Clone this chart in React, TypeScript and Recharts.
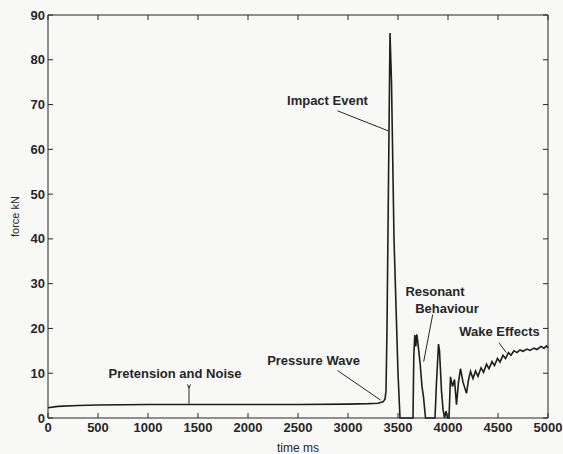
import React from 'react';
import { LineChart, Line, XAxis, YAxis, ReferenceLine, ReferenceDot } from 'recharts';

// time in ms, force in kN
const timeMs = [
    0, 100, 300, 500, 1000, 1500, 2000, 2500, 3000, 3200, 3300, 3350, 3370, 3380, 3390,
    3420, 3435, 3460, 3500, 3520, 3650, 3658, 3668, 3678, 3688, 3698, 3710, 3722, 3740,
    3755, 3775, 3870, 3885, 3905, 3915, 3935, 3950, 3965, 3980, 3995, 4010, 4025, 4045,
    4065, 4085, 4105, 4125, 4150, 4185, 4205, 4225, 4250, 4275, 4300, 4330, 4355, 4385,
    4410, 4440, 4465, 4495, 4520, 4550, 4575, 4605, 4630, 4660, 4690, 4720, 4750, 4790,
    4820, 4860, 4890, 4930, 4960, 4985, 5000,
];
const forceKn = [
    2.3, 2.6, 2.8, 2.9, 3.0, 3.0, 3.0, 3.0, 3.1, 3.2, 3.3, 3.6, 4.2, 6, 20,
    86, 75, 40, 10, 0, 0, 14, 18.5, 16, 18.7, 17, 14.5, 12, 7,
    4.7, 0, 0, 8, 16.5, 15, 6, 2, 0, 1.5, 0, 0, 9.2, 7,
    8.6, 3, 8, 11, 8, 5.5, 8.5, 10.4, 8.8, 10.5, 9.3, 11.2, 10.2, 12,
    11, 12.6, 11.7, 13.3, 12.5, 14, 13.3, 14.6, 14, 15, 14.6, 15.2, 14.9, 15.4,
    15.1, 15.6, 15.3, 16, 15.6, 16.1, 15.7,
];
const xTicks = [0, 500, 1000, 1500, 2000, 2500, 3000, 3500, 4000, 4500, 5000];
const yTicks = [0, 10, 20, 30, 40, 50, 60, 70, 80, 90];

const noteLabels = ['Impact Event', 'Pretension and Noise', 'Pressure Wave', 'Resonant', 'Behaviour', 'Wake Effects'];
const noteAt = [[2795, 70.8], [1270, 9.85], [2655, 12.8], [3870, 28.3], [3990, 24.4], [4515, 19.3]];
const leaders = [
    [[2895, 68.6], [3405, 64.1]],
    [[1410, 6.9], [1410, 3.2]],
    [[1395, 7.5], [1410, 6.7]],
    [[1425, 7.5], [1410, 6.7]],
    [[2895, 10.6], [3326, 4.0]],
    [[3847, 23.1], [3757, 12.6]],
    [[4510, 16.8], [4583, 14.6]],
];

const data = timeMs.map((t, i) => ({ t, f: forceKn[i] }));

const INK = '#262626';
const FONT = '"Liberation Sans", Arial, sans-serif';

const LeftTick = ({ x, y, payload }: any) => (
    <g>
        <line x1={x} x2={x + 5} y1={y} y2={y} stroke={INK} />
        <text x={x - 3} y={y + 4.5} textAnchor="end" fontFamily={FONT} fontWeight="bold" fontSize={13} fill={INK}>
            {payload.value}
        </text>
    </g>
);

const BottomTick = ({ x, y, payload }: any) => (
    <g>
        <line x1={x} x2={x} y1={y} y2={y - 5} stroke={INK} />
        <text x={x} y={y + 14} textAnchor="middle" fontFamily={FONT} fontWeight="bold" fontSize={13} fill={INK}>
            {payload.value}
        </text>
    </g>
);

const TopTick = ({ x, y }: any) => <line x1={x} x2={x} y1={y} y2={y + 5} stroke={INK} />;
const RightTick = ({ x, y }: any) => <line x1={x} x2={x - 5} y1={y} y2={y} stroke={INK} />;

export default function App() {
    return (
        <div style={{ width: 563, height: 454, background: '#f8f8f6' }}>
            <style>{'body{margin:0}'}</style>
            <LineChart width={563} height={454} data={data} margin={{ top: 14, right: 14, bottom: 0, left: 0 }}>
                <XAxis
                    dataKey="t"
                    type="number"
                    domain={[0, 5000]}
                    ticks={xTicks}
                    height={36}
                    tickSize={0}
                    tickMargin={0}
                    tick={<BottomTick />}
                    stroke={INK}
                    interval={0}
                    label={{ value: 'time ms', position: 'insideBottom', offset: 2, fontFamily: FONT, fontSize: 12, fill: INK }}
                />
                <XAxis
                    xAxisId="top"
                    orientation="top"
                    dataKey="t"
                    type="number"
                    domain={[0, 5000]}
                    ticks={xTicks}
                    height={1}
                    tickSize={0}
                    tickMargin={0}
                    tick={<TopTick />}
                    stroke={INK}
                    interval={0}
                />
                <YAxis
                    type="number"
                    domain={[0, 90]}
                    ticks={yTicks}
                    width={48}
                    tickSize={0}
                    tickMargin={0}
                    tick={<LeftTick />}
                    stroke={INK}
                    interval={0}
                    label={{
                        value: 'force kN',
                        angle: -90,
                        position: 'insideLeft',
                        offset: 15,
                        style: { textAnchor: 'middle' },
                        fontFamily: FONT,
                        fontSize: 11,
                        fill: INK,
                    }}
                />
                <YAxis
                    yAxisId="right"
                    orientation="right"
                    type="number"
                    domain={[0, 90]}
                    ticks={yTicks}
                    width={1}
                    tickSize={0}
                    tickMargin={0}
                    tick={<RightTick />}
                    stroke={INK}
                    interval={0}
                />
                {leaders.map((seg, i) => (
                    <ReferenceLine
                        key={`lead-${i}`}
                        segment={[{ x: seg[0][0], y: seg[0][1] }, { x: seg[1][0], y: seg[1][1] }]}
                        stroke={INK}
                        strokeWidth={1}
                    />
                ))}
                {/* invisible copy so the top and right frame axes are bound to a series */}
                <Line
                    xAxisId="top"
                    yAxisId="right"
                    type="linear"
                    dataKey="f"
                    stroke="none"
                    dot={false}
                    activeDot={false}
                    isAnimationActive={false}
                />
                <Line
                    type="linear"
                    dataKey="f"
                    stroke="#1e1e1e"
                    strokeWidth={1.6}
                    dot={false}
                    isAnimationActive={false}
                />
                {noteLabels.map((txt, i) => (
                    <ReferenceDot
                        key={`note-${i}`}
                        x={noteAt[i][0]}
                        y={noteAt[i][1]}
                        r={0}
                        shape={(p: any) => (
                            <text x={p.cx} y={p.cy + 4.5} textAnchor="middle" fontFamily={FONT} fontWeight="bold" fontSize={13} fill={INK}>
                                {txt}
                            </text>
                        )}
                    />
                ))}
            </LineChart>
        </div>
    );
}
